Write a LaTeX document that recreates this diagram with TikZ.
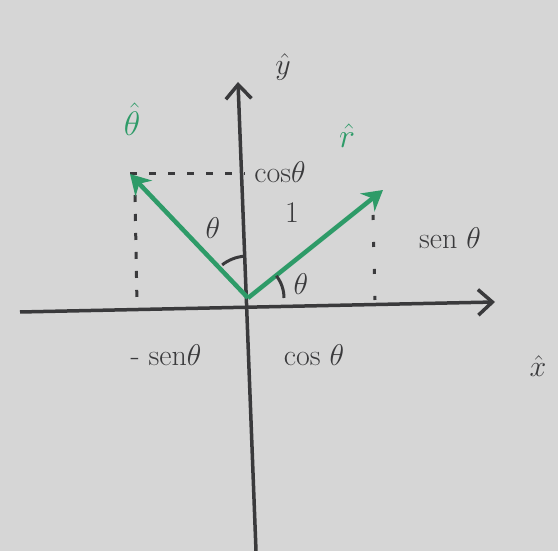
\RequirePackage{fix-cm}
\documentclass[tikz,border=0pt]{standalone}
\usetikzlibrary{arrows.meta, positioning, calc, backgrounds}
\definecolor{cpaper}{HTML}{D6D6D6}
\definecolor{cink}{HTML}{3A3A3C}
\definecolor{cvec}{HTML}{2E9B68}
\tikzset{
  every picture/.style={line width=3pt},
  axis/.style={draw=cink, line width=3.5pt, -{Straight Barb[length=5mm, width=9mm, line width=3.5pt]}},
  unitvec/.style={draw=cvec, line width=4.5pt, -{Stealth[length=7mm, width=8mm]}},
  guide/.style={draw=cink, line width=3pt, dash pattern=on 7pt off 12pt},
  lbl/.style={text=cink, font=\fontsize{30}{34}\selectfont, inner sep=1pt},
  vlbl/.style={text=cvec, font=\fontsize{34}{38}\selectfont\bfseries, inner sep=1pt},
}

\begin{document}
\begin{tikzpicture}[x=1pt, y=1pt]
  \useasboundingbox[fill=cpaper] (0,0) rectangle (558,551);
  % axes
  \coordinate (O) at (248,253);
  \coordinate (xl) at (20,239);
  \coordinate (xr) at (495,249);
  \coordinate (yb) at (256,0);
  \coordinate (yt) at (238,469);
  \draw[axis] (xl) -- (xr);
  \draw[axis] (yb) -- (yt);
  % unit vectors
  \coordinate (rtip) at (383,361);
  \coordinate (ttip) at (130,377);
  \coordinate (ty) at (245,377);
  \coordinate (tla) at (135,356);
  \coordinate (tlb) at (137,246);
  \coordinate (rla) at (373,336);
  \coordinate (rlb) at (375,251);
  \draw[guide] (ttip) -- (ty);
  \draw[guide] (tla) -- (tlb);
  \draw[guide, dash pattern=on 5pt off 22pt] (rla) -- (rlb);
  \draw[unitvec] (O) -- (rtip);
  \draw[unitvec] (O) -- (ttip);
  % angles
  \draw[cink] ($(O)+(36,0)$) arc[start angle=0, end angle=38, radius=36];
  \draw[cink] ($(O)+(95:42)$) arc[start angle=95, end angle=128, radius=42];
  % labels
  \node[lbl] (yhat) at (283,484) {$\hat{y}$};
  \node[lbl] (xhat) at (538,185) {$\hat{x}$};
  \node[vlbl] (that) at (132,432) {$\hat{\theta}$};
  \node[vlbl] (rhat) at (347,415) {$\hat{r}$};
  \node[lbl] (costop) at (280,379) {cos$\theta$};
  \node[lbl] (thl) at (213,323) {$\theta$};
  \node[lbl] (one) at (292,338) {1};
  \node[lbl] (thr) at (301,267) {$\theta$};
  \node[lbl] (sinr) at (450,313) {sen $\theta$};
  \node[lbl] (sinl) at (166,196) {- sen$\theta$};
  \node[lbl] (cosb) at (314,196) {cos $\theta$};
\end{tikzpicture}
\end{document}
